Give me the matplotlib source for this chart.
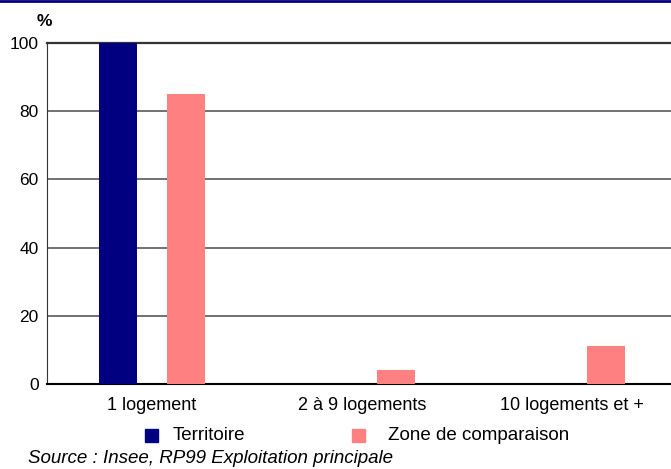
import matplotlib
matplotlib.use("Agg")
import matplotlib.pyplot as plt
from matplotlib.patches import Rectangle
from matplotlib.lines import Line2D
import numpy as np

categories = ["1 logement", "2 à 9 logements", "10 logements et +"]
territoire = [100, 0, 0]
zone = [85, 4, 11]

series_names = ["Territoire", "Zone de comparaison"]
series_colors = ["#000080", "#ff8080"]

plt.rcParams["font.family"] = ["Liberation Sans", "DejaVu Sans"]

W, H = 671, 469
fig = plt.figure(figsize=(W / 100, H / 100), dpi=100)
# axes box in pixels: left 47, right 677 (runs past the edge), top 43, bottom 384
ax = fig.add_axes([47 / W, 1 - 384 / H, 630 / W, 341 / H])

x = np.arange(len(categories))
bw = 0.181
off = 0.164
ax.bar(x - off, territoire, bw, color=series_colors[0], zorder=3)
ax.bar(x + off, zone, bw, color=series_colors[1], zorder=3)

ax.set_xlim(-0.5, 2.5)
ax.set_ylim(0, 100)
ax.set_yticks(range(0, 101, 20))
ax.set_xticks(x)
ax.set_xticklabels(categories, fontsize=13)
ax.tick_params(axis="y", labelsize=12.5)
ax.tick_params(axis="both", length=0, colors="black")
ax.tick_params(axis="x", pad=9)
ax.tick_params(axis="y", pad=6)
ax.yaxis.grid(True, color="#666666", linewidth=1.3, zorder=0)
for s in ["top", "right"]:
    ax.spines[s].set_visible(False)
ax.spines["left"].set_color("#333333")
ax.spines["bottom"].set_color("black")
ax.spines["bottom"].set_linewidth(1.5)
ax.axhline(100, color="#333333", linewidth=1.6, zorder=2, clip_on=False)

fig.text(37 / W, 1 - 22 / H, "%", fontsize=12.5, fontweight="bold", ha="left", va="center")

# navy rule at the very top
fig.add_artist(Line2D([0, 1], [1 - 1 / H, 1 - 1 / H], color="#000080", linewidth=2))

# legend drawn by hand to match the original spacing
leg_y = 435
for px, tx, name, col in zip([145, 352], [173, 388], series_names, series_colors):
    fig.add_artist(Rectangle((px / W, 1 - (leg_y + 6.5) / H), 13 / W, 13 / H,
                             color=col, transform=fig.transFigure))
    fig.text(tx / W, 1 - leg_y / H, name, fontsize=13.5, ha="left", va="center")

fig.text(28 / W, 1 - 458 / H, "Source : Insee, RP99 Exploitation principale",
         fontsize=13.5, style="italic", ha="left", va="center")

fig.savefig("out.png", dpi=100)
